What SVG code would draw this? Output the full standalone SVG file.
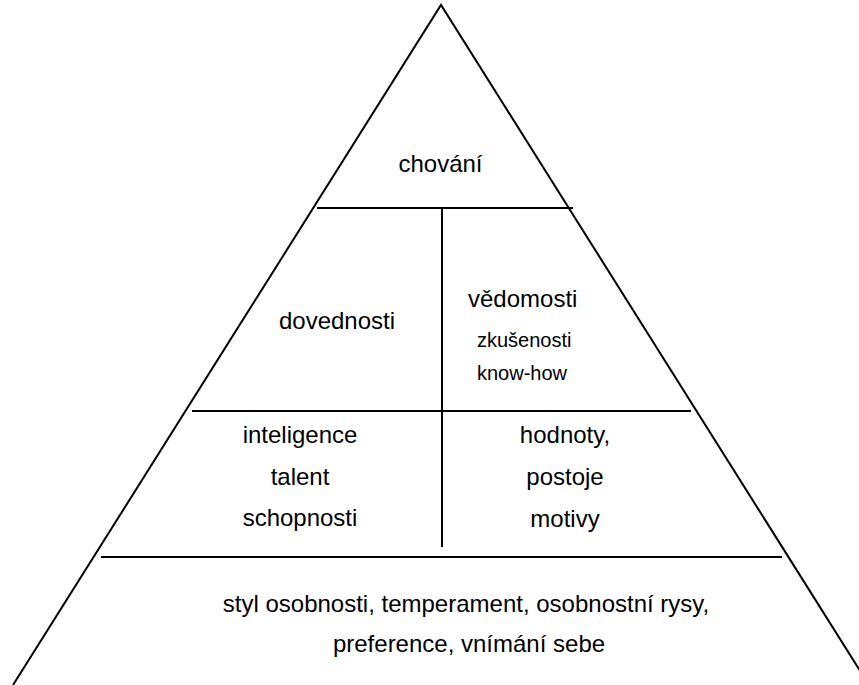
<svg xmlns="http://www.w3.org/2000/svg" width="859" height="685" viewBox="0 0 859 685">
<style>
.ln{stroke:#000;stroke-width:2;fill:none}
.t{font-family:"Liberation Sans",Arial,sans-serif;font-size:24px;fill:#000}
.s{font-family:"Liberation Sans",Arial,sans-serif;font-size:20px;fill:#000}
.m{text-anchor:middle}
</style>
<rect width="859" height="685" fill="#fff"/>
<g id="connectors">
<polyline class="ln" points="13,685 441,5 869,685"/>
<line class="ln" x1="317" y1="208" x2="573" y2="208"/>
<line class="ln" x1="442" y1="208" x2="442" y2="547"/>
<line class="ln" x1="192" y1="411" x2="691" y2="411"/>
<line class="ln" x1="101" y1="557" x2="782" y2="557"/>
</g>
<g id="chovani"><text class="t m" x="440.5" y="172">chování</text></g>
<g id="dovednosti"><text class="t m" x="337" y="329">dovednosti</text></g>
<g id="vedomosti">
<text class="t" x="468" y="307">vědomosti</text>
<text class="s" x="477" y="347">zkušenosti</text>
<text class="s" x="477" y="380">know-how</text>
</g>
<g id="inteligence">
<text class="t m" x="300" y="443">inteligence</text>
<text class="t m" x="300" y="485">talent</text>
<text class="t m" x="300" y="526">schopnosti</text>
</g>
<g id="hodnoty">
<text class="t m" x="565" y="443">hodnoty,</text>
<text class="t m" x="565" y="485">postoje</text>
<text class="t m" x="565" y="527">motivy</text>
</g>
<g id="styl">
<text class="t m" x="466" y="612">styl osobnosti, temperament, osobnostní rysy,</text>
<text class="t m" x="469" y="652">preference, vnímání sebe</text>
</g>
</svg>
